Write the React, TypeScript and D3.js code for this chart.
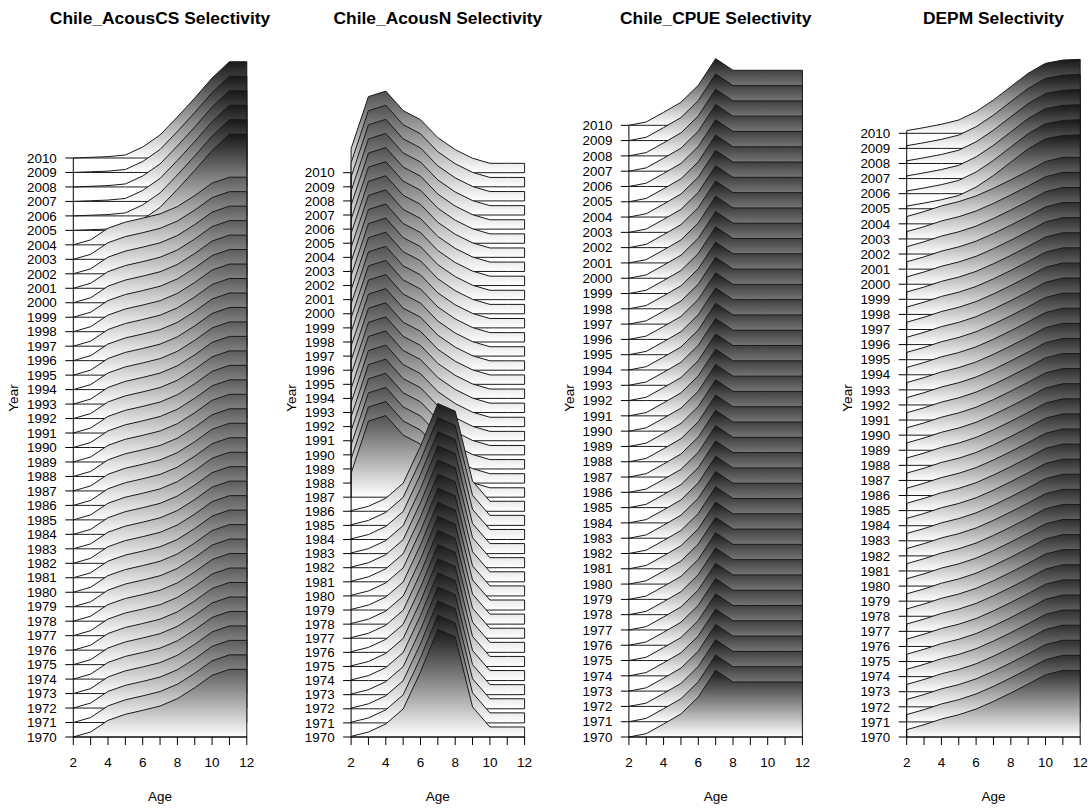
import React from "react";
import * as d3 from "d3";

// ---- data ----
const ages = [2, 3, 4, 5, 6, 7, 8, 9, 10, 11, 12];
const years = d3.range(1970, 2011);
const xTickLabels = [2, 4, 6, 8, 10, 12];

// selectivity-at-age, scaled so each panel's maximum = 1
const acousCSEarly = [0, 0.052, 0.173, 0.236, 0.277, 0.322, 0.398, 0.512, 0.641, 0.703, 0.703];
const acousCSLate = [0, 0.007, 0.014, 0.031, 0.114, 0.239, 0.426, 0.623, 0.831, 1, 1];
const acousNEarly = [0.006, 0.046, 0.121, 0.26, 0.604, 1, 0.929, 0.279, 0.093, 0.093, 0.093];
const acousNLate = [0.223, 0.706, 0.757, 0.576, 0.492, 0.325, 0.214, 0.134, 0.087, 0.087, 0.087];
const cpueSel = [0, 0.05, 0.195, 0.345, 0.6, 1, 0.825, 0.825, 0.825, 0.825, 0.825];
const depmEarly = [0.099, 0.166, 0.243, 0.301, 0.378, 0.481, 0.595, 0.716, 0.842, 0.9, 0.9];
const depmLate = [0.036, 0.077, 0.122, 0.18, 0.293, 0.45, 0.631, 0.811, 0.946, 0.99, 1];

const titles = ["Chile_AcousCS Selectivity", "Chile_AcousN Selectivity", "Chile_CPUE Selectivity", "DEPM Selectivity"];
const earlySeries = [acousCSEarly, acousNEarly, cpueSel, depmEarly];
const lateSeries = [acousCSLate, acousNLate, cpueSel, depmLate];
const lateFromYear = [2005, 1987, 2011, 2005];
// height of a selectivity of 1, in years of the vertical axis
const amplitude = [6.65, 7.64, 4.36, 4.9];

// ---- layout ----
const W = 1091;
const H = 808;
const panelLeft0 = 73.3;
const panelStep = 277.8;
const plotW = 173.5;
const yBottom = 737;
const yTop2010 = [158, 172.7, 125.3, 133.3];
const FONT = "'Liberation Sans', Arial, Helvetica, sans-serif";

function Panel({ idx }: { idx: number }) {
  const left = panelLeft0 + idx * panelStep;
  const x = d3.scaleLinear().domain([2, 12]).range([left, left + plotW]);
  const y = d3.scaleLinear().domain([1970, 2010]).range([yBottom, yTop2010[idx]]);
  const amp = amplitude[idx];
  const order = [...years].reverse();
  const cx = left + plotW / 2;

  return (
    <g>
      <defs>
        {order.map((yr) => (
          <linearGradient
            key={yr}
            id={`g${idx}_${yr}`}
            gradientUnits="userSpaceOnUse"
            x1={0}
            x2={0}
            y1={y(yr)}
            y2={y(yr + amp)}
          >
            <stop offset="0" stopColor="#ffffff" />
            <stop offset="1" stopColor="#181818" />
          </linearGradient>
        ))}
      </defs>
      {order.map((yr) => {
        const sel = yr >= lateFromYear[idx] ? lateSeries[idx] : earlySeries[idx];
        const area = d3
          .area<number>()
          .x((_, i) => x(ages[i]))
          .y0(y(yr))
          .y1((d) => y(yr + amp * d));
        return (
          <path
            key={yr}
            d={area(sel) as string}
            fill={`url(#g${idx}_${yr})`}
            stroke="#1a1a1a"
            strokeWidth={1}
            strokeLinejoin="miter"
          />
        );
      })}
      {/* y axis */}
      <line x1={x(2)} x2={x(2)} y1={y(1970)} y2={y(2010)} stroke="#000" strokeWidth={1} />
      {years.map((yr) => (
        <g key={yr}>
          <line x1={x(2) - 8} x2={x(2)} y1={y(yr)} y2={y(yr)} stroke="#000" strokeWidth={1} />
          <text
            x={x(2) - 16.5}
            y={y(yr) + 4.7}
            textAnchor="end"
            fontSize={13.4}
            fontFamily={FONT}
            fill="#000"
          >
            {yr}
          </text>
        </g>
      ))}
      {/* x axis */}
      <line x1={x(2)} x2={x(12)} y1={yBottom} y2={yBottom} stroke="#000" strokeWidth={1} />
      {ages.map((a) => (
        <line key={a} x1={x(a)} x2={x(a)} y1={yBottom} y2={yBottom + 8} stroke="#000" strokeWidth={1} />
      ))}
      {xTickLabels.map((a) => (
        <text key={a} x={x(a)} y={767} textAnchor="middle" fontSize={13.5} fontFamily={FONT} fill="#000">
          {a}
        </text>
      ))}
      <text x={cx} y={801} textAnchor="middle" fontSize={13.5} fontFamily={FONT} fill="#000">
        Age
      </text>
      <text
        transform={`translate(${left - 55},398) rotate(-90)`}
        textAnchor="middle"
        fontSize={13.5}
        fontFamily={FONT}
        fill="#000"
      >
        Year
      </text>
      <text x={cx} y={23.5} textAnchor="middle" fontSize={17.4} fontWeight="bold" fontFamily={FONT} fill="#000">
        {titles[idx]}
      </text>
    </g>
  );
}

export default function App() {
  return (
    <svg
      width={W}
      height={H}
      viewBox={`0 0 ${W} ${H}`}
      style={{ position: "absolute", left: 0, top: 0, background: "#fff" }}
    >
      <rect width={W} height={H} fill="#fff" />
      {[0, 1, 2, 3].map((i) => (
        <Panel key={i} idx={i} />
      ))}
    </svg>
  );
}
